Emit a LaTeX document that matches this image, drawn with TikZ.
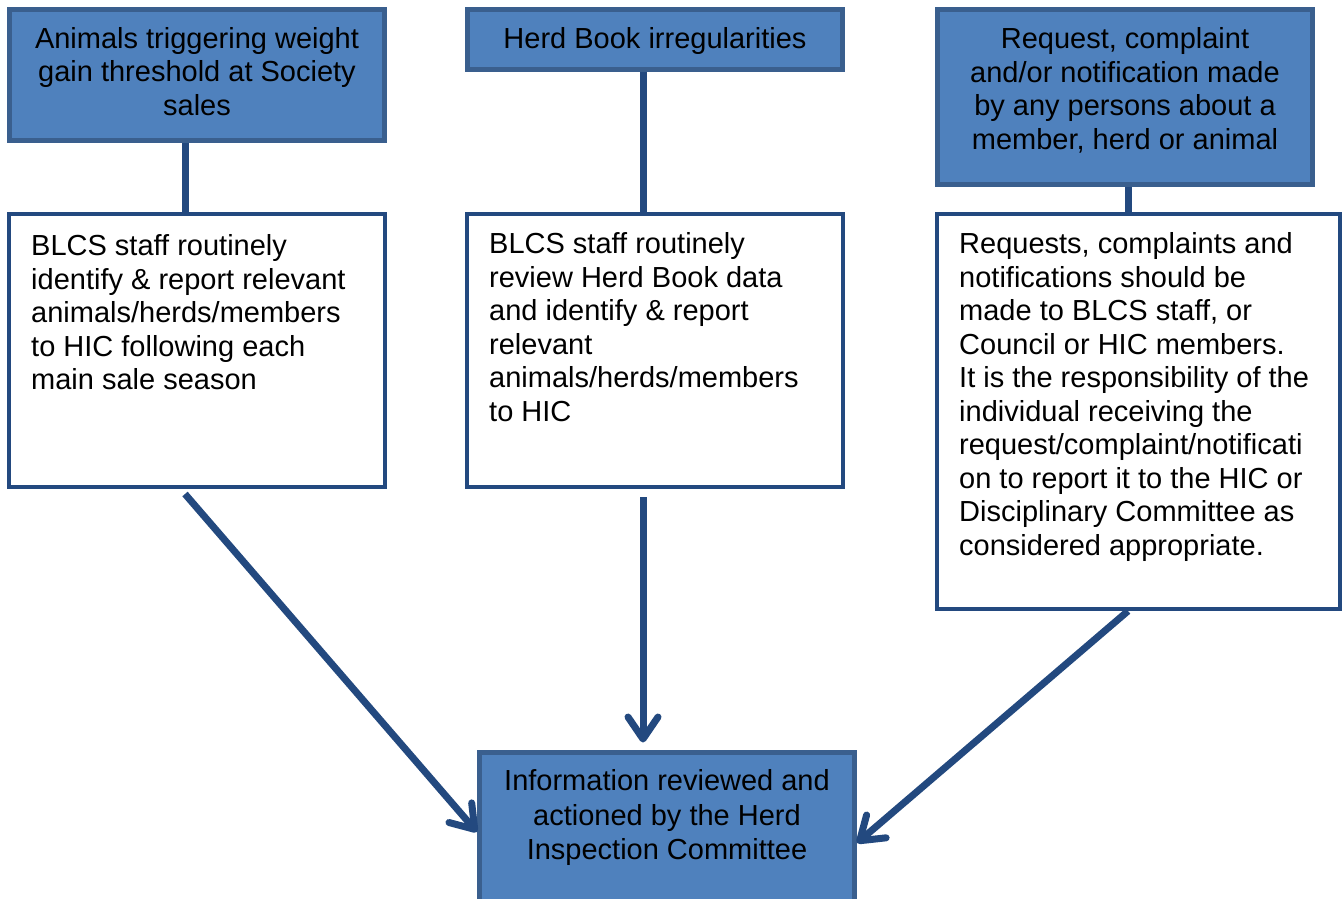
\documentclass[tikz,border=0pt]{standalone}
\usepackage{fontspec}
\setmainfont{Liberation Sans}
\usetikzlibrary{arrows.meta}
\definecolor{boxfill}{HTML}{4F81BD}
\definecolor{boxedge}{HTML}{3A5F8E}
\definecolor{linecol}{HTML}{23497F}
\tikzset{
  bluebox/.style={draw=boxedge, fill=boxfill, line width=5pt, inner sep=0pt},
  whitebox/.style={draw=linecol, fill=white, line width=4pt, inner sep=0pt},
  txt/.style={inner sep=0pt, font=\fontsize{29}{33.5}\selectfont},
  conn/.style={draw=linecol, line width=7pt},
  arr/.style={conn, -{Straight Barb[length=22pt,width=30pt,round]}}
}
\begin{document}
\begin{tikzpicture}[x=1pt,y=-1pt]
\useasboundingbox (0,0) rectangle (1344,899);
\clip (0,0) rectangle (1344,899);
% top blue boxes
\node[bluebox, minimum width=375pt, minimum height=131pt] (A) at (197,75) {};
\node[bluebox, minimum width=375pt, minimum height=60pt] (B) at (655,39.5) {};
\node[bluebox, minimum width=375pt, minimum height=175pt] (C) at (1125,97) {};
% white boxes
\node[whitebox, minimum width=376pt, minimum height=273pt] (D) at (197,350.5) {};
\node[whitebox, minimum width=376pt, minimum height=273pt] (E) at (655,350.5) {};
\node[whitebox, minimum width=403pt, minimum height=395pt] (F) at (1138.5,411.5) {};
% bottom box
\node[bluebox, minimum width=375pt, minimum height=155pt] (G) at (667,830) {};
% texts
\node[txt, align=center, anchor=north] (At) at (197,24.5) {\strut Animals triggering weight\\gain threshold at Society\\sales};
\node[txt, align=center, anchor=north] (Bt) at (655,25) {\strut Herd Book irregularities};
\node[txt, align=center, anchor=north] (Ct) at (1125,25) {\strut Request, complaint\\and/or notification made\\by any persons about a\\member, herd or animal};
\node[txt, align=left, anchor=north west] (Dt) at (31,232) {\strut BLCS staff routinely\\identify \& report relevant\\animals/herds/members\\to HIC following each\\main sale season};
\node[txt, align=left, anchor=north west] (Et) at (489,230) {\strut BLCS staff routinely\\review Herd Book data\\and identify \& report\\relevant\\animals/herds/members\\to HIC};
\node[txt, align=left, anchor=north west] (Ft) at (959,230) {\strut Requests, complaints and\\notifications should be\\made to BLCS staff, or\\Council or HIC members.\\It is the responsibility of the\\individual receiving the\\request/complaint/notificati\\on to report it to the HIC or\\Disciplinary Committee as\\considered appropriate.};
\node[txt, align=center, anchor=north, font=\fontsize{29}{34.5}\selectfont] (Gt) at (667,766.5) {\strut Information reviewed and\\actioned by the Herd\\Inspection Committee};
% connectors
\draw[conn] ([xshift=-12pt]A.south) -- ([xshift=-12pt]D.north);
\draw[conn] ([xshift=-12pt]B.south) -- ([xshift=-12pt]E.north);
\draw[conn] ([xshift=3pt]C.south) -- ([xshift=-10.5pt]F.north);
\draw[arr] ([xshift=-12pt,yshift=-5pt]D.south) -- ([yshift=-2pt]G.west);
\draw[arr] ([xshift=-12pt,yshift=-8pt]E.south) -- ([xshift=-24pt,yshift=7.5pt]G.north);
\draw[arr] ([xshift=-10.5pt]F.south) -- ([yshift=-13pt]G.east);
\end{tikzpicture}
\end{document}
